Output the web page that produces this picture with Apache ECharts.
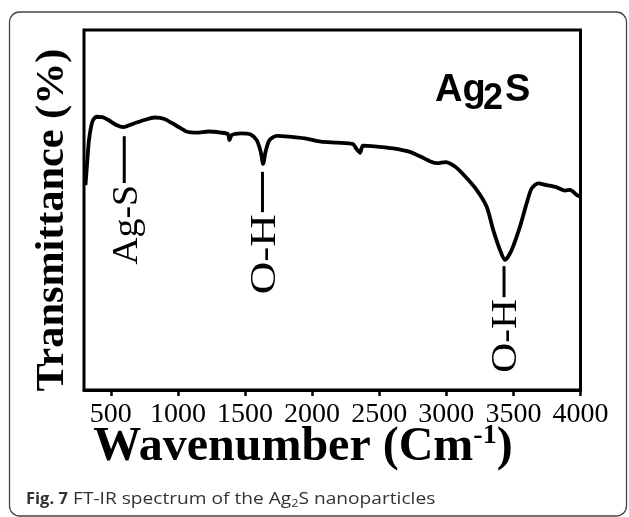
<!DOCTYPE html>
<html><head><meta charset="utf-8">
<script src="https://cdn.jsdelivr.net/npm/echarts@6/dist/echarts.min.js"></script>
<style>html,body{margin:0;padding:0;background:#fff}#c{width:629px;height:517px}</style>
</head><body><div id="c"></div>
<script>
// FT-IR spectrum of Ag2S
const wavenumbers = [311,325,337,362,392,436,481,541,594,661,750,825,900,989,1064,1138,1229,1318,1372,1384,1401,1468,1542,1587,1617,1635,1653,1682,1737,1826,1946,2065,2185,2305,2328,2357,2379,2483,2603,2722,2811,2887,2932,2992,3067,3141,3226,3301,3350,3400,3437,3487,3549,3599,3636,3685,3748,3823,3885,3922,3972,3996];
const transmittance = [56.9,63.9,69.4,74.5,75.9,75.8,75.0,73.6,73.0,73.9,75.0,75.7,75.3,73.4,71.8,71.5,71.8,71.5,71.1,69.4,70.8,71.3,71.0,69.4,66.2,62.8,66.2,69.4,70.6,70.4,69.9,69.0,68.7,68.3,67.1,65.9,67.9,67.6,67.1,66.2,64.8,63.4,63.0,63.3,62.0,59.3,55.6,50.9,44.4,38.9,36.1,38.9,45.4,51.9,56.0,57.4,56.9,56.3,55.4,55.6,54.2,53.7];
const xTickValues = [500,1000,1500,2000,2500,3000,3500,4000];
const annLabels = ['Ag-S','O-H','O-H'];
const annWavenumbers = [600,1630,3430];
const annLineTop = [70.5,60.6,34.4];
const annLineBottom = [57.5,49.4,25.8];

const annTextStretch = [1.05,1.25,1.15];

const chart = echarts.init(document.getElementById('c'), null, {renderer:'canvas'});
chart.setOption({
  animation:false,
  grid:{left:84,top:30,right:48.5,bottom:127,show:true,borderColor:'#000',borderWidth:3},
  xAxis:{type:'value',min:300,max:4000,
    axisLine:{show:true,onZero:false,lineStyle:{color:'#000',width:3}},
    axisTick:{show:true,customValues:xTickValues,length:6,inside:false,lineStyle:{color:'#000',width:2.5}},
    axisLabel:{customValues:xTickValues,formatter:v=>String(v),color:'#000',fontFamily:'Liberation Serif',fontSize:28,margin:11},
    splitLine:{show:false}},
  yAxis:{type:'value',min:0,max:100,axisLine:{show:false},axisTick:{show:false},axisLabel:{show:false},splitLine:{show:false}},
  series:[{type:'line',data:wavenumbers.map((w,i)=>[w,transmittance[i]]),showSymbol:false,smooth:0.25,
    lineStyle:{color:'#000',width:3.8},clip:true}]
});

const g = [];
g.push({type:'rect',shape:{x:9.5,y:12,width:617,height:504,r:10},style:{fill:'none',stroke:'#444',lineWidth:1.3},silent:true});
g.push({type:'text',x:52,y:220,rotation:Math.PI/2,scaleX:1.03,style:{text:'Transmittance (%)',fontFamily:'Liberation Serif',fontWeight:'bold',fontSize:41,fill:'#000',align:'center',verticalAlign:'middle'}});
g.push({type:'text',x:435,y:72,style:{text:'Ag',fontFamily:'Liberation Sans',fontWeight:'bold',fontSize:38,fill:'#000',align:'left',verticalAlign:'top'}});
g.push({type:'text',x:483,y:81,style:{text:'2',fontFamily:'Liberation Sans',fontWeight:'bold',fontSize:36,fill:'#000',align:'left',verticalAlign:'top'}});
g.push({type:'text',x:505,y:72,style:{text:'S',fontFamily:'Liberation Sans',fontWeight:'bold',fontSize:38,fill:'#000',align:'left',verticalAlign:'top'}});
g.push({type:'text',x:303,y:447,style:{text:'{a|Wavenumber (Cm}{s|-1}{a|)}',align:'center',verticalAlign:'middle',
  rich:{a:{fontFamily:'Liberation Serif',fontWeight:'bold',fontSize:48,lineHeight:50,fill:'#000',verticalAlign:'bottom'},
        s:{fontFamily:'Liberation Serif',fontWeight:'bold',fontSize:28,lineHeight:30,fill:'#000',verticalAlign:'top'}}}});
g.push({type:'text',x:26,y:499,style:{text:'Fig. 7',fontFamily:'Open Sans',fontWeight:'bold',fontSize:16.5,fill:'#333',align:'left',verticalAlign:'middle'}});
g.push({type:'text',x:73,y:499,scaleX:1.16,style:{text:'{r|FT-IR spectrum of the Ag}{s|2}{r|S nanoparticles}',align:'left',verticalAlign:'middle',
  rich:{r:{fontFamily:'Open Sans',fontSize:16.5,lineHeight:20,fill:'#333',verticalAlign:'middle'},
        s:{fontFamily:'Open Sans',fontSize:11,lineHeight:12,fill:'#333',verticalAlign:'bottom'}}}});
for (let i=0;i<annLabels.length;i++){
  const p1 = chart.convertToPixel({gridIndex:0},[annWavenumbers[i],annLineTop[i]]);
  const p2 = chart.convertToPixel({gridIndex:0},[annWavenumbers[i],annLineBottom[i]]);
  g.push({type:'line',shape:{x1:p1[0],y1:p1[1],x2:p2[0],y2:p2[1]},style:{stroke:'#000',lineWidth:3}});
  g.push({type:'text',x:p2[0]+3,y:p2[1]+2,rotation:Math.PI/2,scaleX:annTextStretch[i],style:{text:annLabels[i],fontFamily:'Liberation Serif',fontSize:36,fill:'#000',align:'right',verticalAlign:'middle'}});
}
chart.setOption({graphic:g});
</script></body></html>
